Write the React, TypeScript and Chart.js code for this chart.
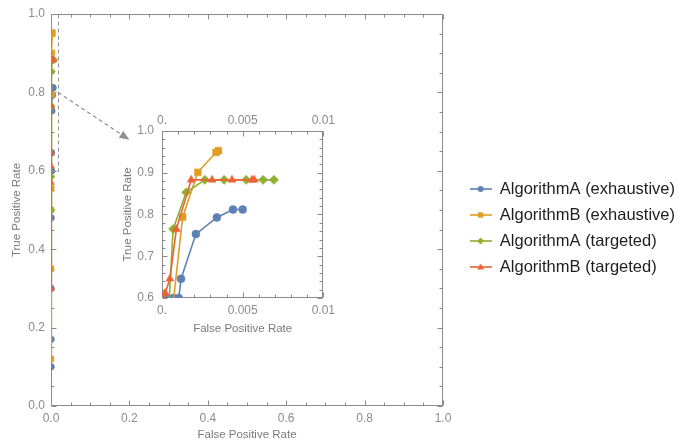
import React, { useEffect, useRef } from 'react';
import { Chart, registerables } from 'chart.js';

Chart.register(...registerables);

// ---------- data ----------
const SERIES_NAMES = [
  'AlgorithmA (exhaustive)',
  'AlgorithmB (exhaustive)',
  'AlgorithmA (targeted)',
  'AlgorithmB (targeted)',
];

const algAExhFpr = [0.00002, 0.00005, 0.0001, 0.0002, 0.0003, 0.0007, 0.00104, 0.00118, 0.0021, 0.0034, 0.0044, 0.005];
const algAExhTpr = [0.10, 0.17, 0.30, 0.48, 0.60, 0.60, 0.60, 0.646, 0.753, 0.793, 0.812, 0.812];

const algBExhFpr = [0.00001, 0.00005, 0.0002, 0.0006, 0.00128, 0.00222, 0.00335, 0.0035];
const algBExhTpr = [0.12, 0.35, 0.50, 0.555, 0.794, 0.901, 0.949, 0.953];

const algATgtFpr = [0.0001, 0.00043, 0.00069, 0.0015, 0.00266, 0.00385, 0.00522, 0.00627, 0.00694];
const algATgtTpr = [0.50, 0.585, 0.765, 0.853, 0.883, 0.883, 0.883, 0.883, 0.883];

const algBTgtFpr = [0.00001, 0.00008, 0.0002, 0.00049, 0.00089, 0.00181, 0.0031, 0.00434, 0.00558, 0.00572];
const algBTgtTpr = [0.30, 0.57, 0.612, 0.646, 0.765, 0.883, 0.883, 0.883, 0.883, 0.883];

const SERIES_FPR = [algAExhFpr, algBExhFpr, algATgtFpr, algBTgtFpr];
const SERIES_TPR = [algAExhTpr, algBExhTpr, algATgtTpr, algBTgtTpr];

// axes / ticks
const MAIN_RANGE = [0, 1];
const MAIN_MAJOR = 0.2;
const MAIN_MINOR = 0.05;
const INSET_X_RANGE = [0, 0.01];
const INSET_X_MAJOR = 0.005;
const INSET_X_MINOR = 0.001;
const INSET_Y_RANGE = [0.6, 1.0];
const INSET_Y_MAJOR = 0.1;
const INSET_Y_MINOR = 0.02;

// zoom marker (data units of the main plot)
const ZOOM_BOX_X = [0, 0.018];
const ZOOM_BOX_Y = [0.6, 1.0];
const ARROW_FROM = [0.018, 0.8];
const ARROW_TO = [0.2, 0.679];

// ---------- styles ----------
const COLORS = ['#5E81B5', '#E19C24', '#8FB032', '#EB6235'];
const POINT_STYLES = ['circle', 'rect', 'rectRot', 'triangle'];
const POINT_RADII = [4, 4.8, 4.6, 4.6];
const FONT = "'Liberation Sans', Arial, sans-serif";
const FRAME_COLOR = '#8a8a8a';
const LABEL_COLOR = '#8c8c8c';
const TITLE_COLOR = '#7a7a7a';

function fmt1(v: number) {
  return Number(v).toFixed(1);
}
function fmtInsetX(v: number) {
  const r = +Number(v).toFixed(4);
  return r === 0 ? '0.' : String(r);
}

function makeLegendIcon(color: string, style: string): HTMLCanvasElement {
  const c = document.createElement('canvas');
  c.width = 22;
  c.height = 10;
  const g = c.getContext('2d')!;
  g.strokeStyle = color;
  g.lineWidth = 1.6;
  g.beginPath();
  g.moveTo(0, 5);
  g.lineTo(22, 5);
  g.stroke();
  g.fillStyle = color;
  g.beginPath();
  const cx = 11, cy = 5;
  if (style === 'circle') {
    g.arc(cx, cy, 3, 0, Math.PI * 2);
  } else if (style === 'rect') {
    g.rect(cx - 2.7, cy - 2.7, 5.4, 5.4);
  } else if (style === 'rectRot') {
    g.moveTo(cx, cy - 3.5);
    g.lineTo(cx + 3.5, cy);
    g.lineTo(cx, cy + 3.5);
    g.lineTo(cx - 3.5, cy);
    g.closePath();
  } else {
    g.moveTo(cx, cy - 3.6);
    g.lineTo(cx + 3.4, cy + 2.6);
    g.lineTo(cx - 3.4, cy + 2.6);
    g.closePath();
  }
  g.fill();
  return c;
}

function makeFramePlugin(xId: string, yId: string, xMajor: number, xMinor: number, yMajor: number, yMinor: number) {
  return {
    id: 'frameTicks',
    beforeDatasetsDraw(chart: any) {
      const { ctx, chartArea: a } = chart;
      const xs = chart.scales[xId];
      const ys = chart.scales[yId];
      const L = Math.round(a.left) + 0.5;
      const R = Math.round(a.right) - 0.5;
      const T = Math.round(a.top) + 0.5;
      const B = Math.round(a.bottom) - 0.5;
      ctx.save();
      ctx.strokeStyle = FRAME_COLOR;
      ctx.lineWidth = 1;
      ctx.strokeRect(L, T, R - L, B - T);
      ctx.beginPath();
      const isMajor = (v: number, major: number) => Math.abs(v / major - Math.round(v / major)) < 1e-6;
      const nx = Math.round((xs.max - xs.min) / xMinor);
      for (let i = 0; i <= nx; i++) {
        const v = xs.min + i * xMinor;
        const len = isMajor(v, xMajor) ? 5 : 3;
        const px = Math.round(xs.getPixelForValue(v)) + 0.5;
        ctx.moveTo(px, B);
        ctx.lineTo(px, B - len);
        ctx.moveTo(px, T);
        ctx.lineTo(px, T + len);
      }
      const ny = Math.round((ys.max - ys.min) / yMinor);
      for (let i = 0; i <= ny; i++) {
        const v = ys.min + i * yMinor;
        const len = isMajor(v, yMajor) ? 5 : 3;
        const py = Math.round(ys.getPixelForValue(v)) + 0.5;
        ctx.moveTo(L, py);
        ctx.lineTo(L + len, py);
        ctx.moveTo(R, py);
        ctx.lineTo(R - len, py);
      }
      ctx.stroke();
      ctx.restore();
    },
  };
}

const zoomMarkPlugin = {
  id: 'zoomMark',
  afterDatasetsDraw(chart: any) {
    const { ctx } = chart;
    const xs = chart.scales.x;
    const ys = chart.scales.y;
    ctx.save();
    ctx.strokeStyle = '#8f8f8f';
    ctx.fillStyle = '#8f8f8f';
    ctx.lineWidth = 1;
    ctx.setLineDash([4, 3]);
    const x0 = Math.round(xs.getPixelForValue(ZOOM_BOX_X[0])) + 0.5;
    const x1 = Math.round(xs.getPixelForValue(ZOOM_BOX_X[1])) + 0.5;
    const y0 = Math.round(ys.getPixelForValue(ZOOM_BOX_Y[0])) + 0.5;
    const y1 = Math.round(ys.getPixelForValue(ZOOM_BOX_Y[1])) + 0.5;
    ctx.strokeRect(x0, y1, x1 - x0, y0 - y1);
    const fx = xs.getPixelForValue(ARROW_FROM[0]);
    const fy = ys.getPixelForValue(ARROW_FROM[1]);
    const tx = xs.getPixelForValue(ARROW_TO[0]);
    const ty = ys.getPixelForValue(ARROW_TO[1]);
    const ang = Math.atan2(ty - fy, tx - fx);
    const head = 10;
    const bx = tx - head * Math.cos(ang);
    const by = ty - head * Math.sin(ang);
    ctx.lineWidth = 1.2;
    ctx.beginPath();
    ctx.moveTo(fx, fy);
    ctx.lineTo(bx, by);
    ctx.stroke();
    ctx.setLineDash([]);
    ctx.beginPath();
    ctx.moveTo(tx, ty);
    ctx.lineTo(bx + 4 * Math.sin(ang), by - 4 * Math.cos(ang));
    ctx.lineTo(bx - 4 * Math.sin(ang), by + 4 * Math.cos(ang));
    ctx.closePath();
    ctx.fill();
    ctx.restore();
  },
};

function buildDatasets(radiusScale: number) {
  return SERIES_NAMES.map((name, i) => ({
    label: name,
    data: SERIES_FPR[i].map((x, k) => ({ x, y: SERIES_TPR[i][k] })),
    borderColor: COLORS[i],
    backgroundColor: COLORS[i],
    pointBackgroundColor: COLORS[i],
    pointBorderColor: COLORS[i],
    pointBorderWidth: 0.5,
    pointStyle: POINT_STYLES[i],
    pointRadius: POINT_RADII[i] * radiusScale,
    borderWidth: 1.6,
    tension: 0,
    showLine: true,
    order: SERIES_NAMES.length - i,
  }));
}

const tickFont = { family: FONT, size: 12 };
const titleFont = { family: FONT, size: 11.5 };

export default function App() {
  const mainRef = useRef<HTMLCanvasElement>(null);
  const insetRef = useRef<HTMLCanvasElement>(null);

  useEffect(() => {
    const icons = SERIES_NAMES.map((_, i) => makeLegendIcon(COLORS[i], POINT_STYLES[i]));
    const main = new Chart(mainRef.current!, {
      type: 'scatter',
      data: { datasets: buildDatasets(0.85) as any },
      options: {
        animation: false,
        responsive: false,
        maintainAspectRatio: false,
        layout: { padding: { top: 14, left: 0, right: -6, bottom: 0 } },
        plugins: {
          tooltip: { enabled: false },
          legend: {
            display: true,
            position: 'right',
            align: 'center',
            maxWidth: 320,
            labels: {
              usePointStyle: true,
              pointStyleWidth: 22,
              boxHeight: 10,
              padding: 9.5,
              color: '#1e1e1e',
              font: { family: FONT, size: 16.5 },
              generateLabels: (chart: any) =>
                chart.data.datasets.map((ds: any, i: number) => ({
                  text: ds.label,
                  pointStyle: icons[i],
                  fillStyle: COLORS[i],
                  strokeStyle: COLORS[i],
                  lineWidth: 0,
                  hidden: false,
                  datasetIndex: i,
                  fontColor: '#1e1e1e',
                })),
            },
          },
        },
        scales: {
          x: {
            type: 'linear',
            position: 'bottom',
            min: MAIN_RANGE[0],
            max: MAIN_RANGE[1],
            grid: { display: false, drawTicks: false },
            border: { display: false },
            ticks: { stepSize: MAIN_MAJOR, padding: 5, color: LABEL_COLOR, font: tickFont, maxRotation: 0, autoSkip: false, callback: (v: any) => fmt1(v) },
            title: { display: true, text: 'False Positive Rate', color: TITLE_COLOR, font: titleFont, padding: { top: 0, bottom: 0 } },
            afterFit: (s: any) => { s.height = 36; },
          },
          y: {
            type: 'linear',
            position: 'left',
            min: MAIN_RANGE[0],
            max: MAIN_RANGE[1],
            grid: { display: false, drawTicks: false },
            border: { display: false },
            ticks: { stepSize: MAIN_MAJOR, padding: 6, color: LABEL_COLOR, font: tickFont, autoSkip: false, callback: (v: any) => fmt1(v) },
            title: { display: true, text: 'True Positive Rate', color: TITLE_COLOR, font: titleFont, padding: { top: 10, bottom: 0 } },
            afterFit: (s: any) => { s.width = 51; },
          },
          yR: {
            type: 'linear',
            position: 'right',
            display: true,
            grid: { display: false, drawTicks: false },
            border: { display: false },
            ticks: { display: false },
            afterFit: (s: any) => {
              const lw = s.chart.legend ? s.chart.legend.width : 0;
              s.width = Math.max(0, s.chart.width + 6 - lw - 443);
            },
          },
        },
      } as any,
      plugins: [makeFramePlugin('x', 'y', MAIN_MAJOR, MAIN_MINOR, MAIN_MAJOR, MAIN_MINOR), zoomMarkPlugin],
    });

    const inset = new Chart(insetRef.current!, {
      type: 'scatter',
      data: { datasets: buildDatasets(1) as any },
      options: {
        animation: false,
        responsive: false,
        maintainAspectRatio: false,
        layout: { padding: { top: 0, left: 0, right: 11, bottom: 0 } },
        plugins: { tooltip: { enabled: false }, legend: { display: false } },
        scales: {
          x: {
            type: 'linear',
            position: 'bottom',
            min: INSET_X_RANGE[0],
            max: INSET_X_RANGE[1],
            grid: { display: false, drawTicks: false },
            border: { display: false },
            ticks: { stepSize: INSET_X_MAJOR, padding: 5, color: LABEL_COLOR, font: tickFont, maxRotation: 0, autoSkip: false, callback: (v: any) => fmtInsetX(v) },
            title: { display: true, text: 'False Positive Rate', color: TITLE_COLOR, font: titleFont, padding: { top: 0, bottom: 4 } },
            afterFit: (s: any) => { s.height = 42; },
          },
          x2: {
            type: 'linear',
            position: 'top',
            min: INSET_X_RANGE[0],
            max: INSET_X_RANGE[1],
            grid: { display: false, drawTicks: false },
            border: { display: false },
            ticks: { stepSize: INSET_X_MAJOR, padding: 3, color: LABEL_COLOR, font: tickFont, maxRotation: 0, autoSkip: false, callback: (v: any) => fmtInsetX(v) },
            afterFit: (s: any) => { s.height = 26; },
          },
          y: {
            type: 'linear',
            position: 'left',
            min: INSET_Y_RANGE[0],
            max: INSET_Y_RANGE[1],
            grid: { display: false, drawTicks: false },
            border: { display: false },
            ticks: { stepSize: INSET_Y_MAJOR, padding: 8, color: LABEL_COLOR, font: tickFont, autoSkip: false, callback: (v: any) => fmt1(v) },
            title: { display: true, text: 'True Positive Rate', color: TITLE_COLOR, font: titleFont, padding: { top: 11, bottom: 0 } },
            afterFit: (s: any) => { s.width = 52; },
          },
        },
      } as any,
      plugins: [makeFramePlugin('x', 'y', INSET_X_MAJOR, INSET_X_MINOR, INSET_Y_MAJOR, INSET_Y_MINOR)],
    });

    return () => {
      main.destroy();
      inset.destroy();
    };
  }, []);

  return (
    <div style={{ position: 'fixed', left: 0, top: 0, width: 679, height: 442, background: '#ffffff', overflow: 'hidden' }}>
      <canvas ref={mainRef} width={679} height={442} style={{ position: 'absolute', left: 0, top: 0, display: 'block' }} />
      <canvas ref={insetRef} width={230} height={235} style={{ position: 'absolute', left: 110, top: 105, display: 'block' }} />
    </div>
  );
}
